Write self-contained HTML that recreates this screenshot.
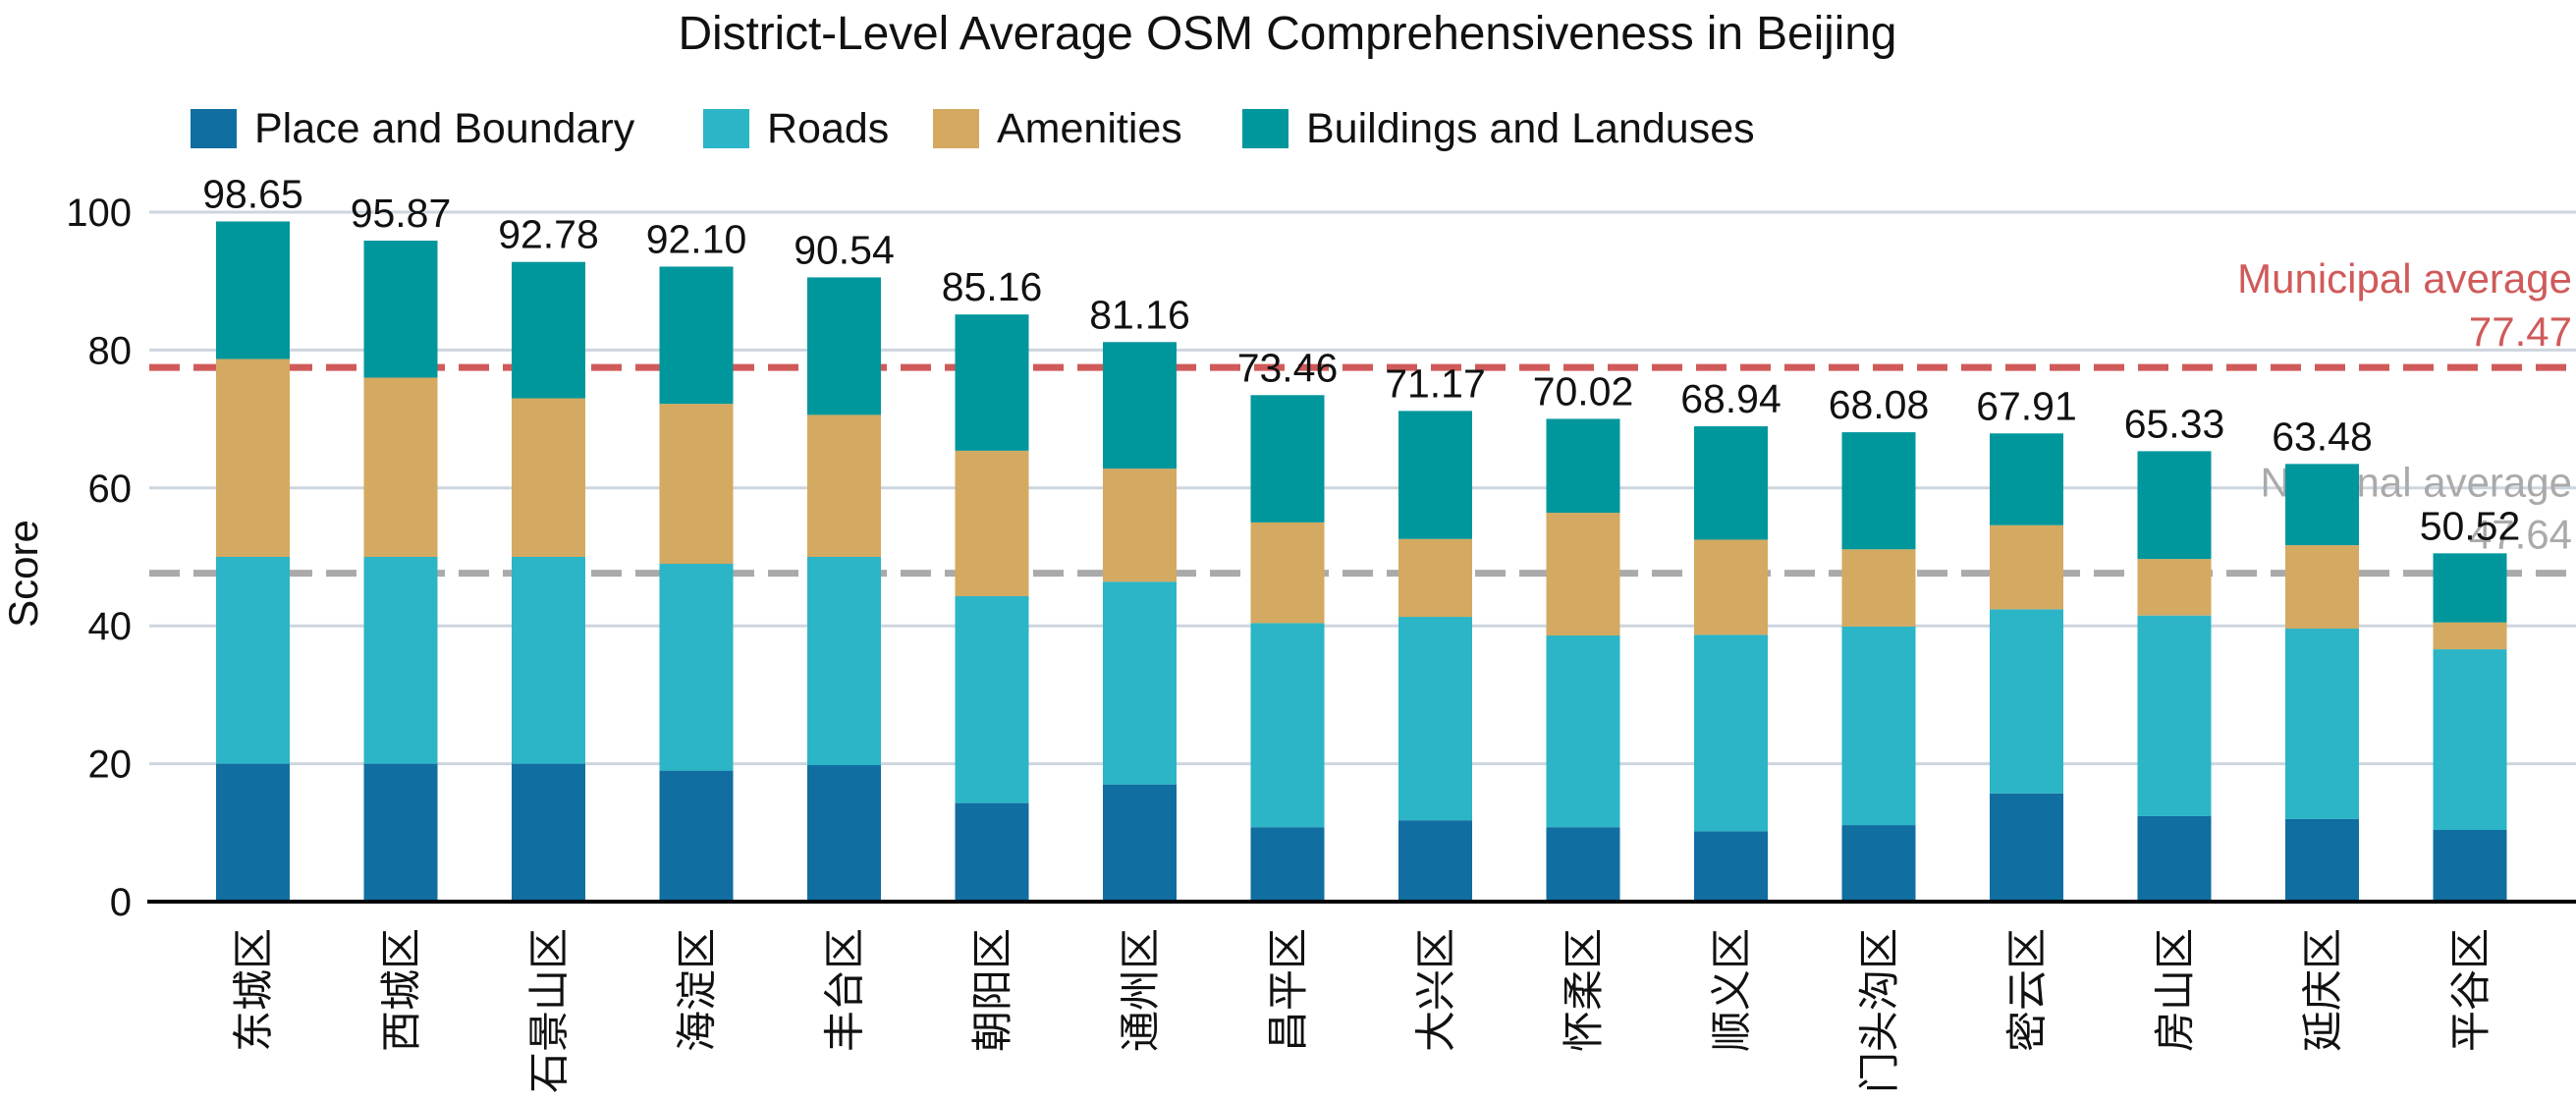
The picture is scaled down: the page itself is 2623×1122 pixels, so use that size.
<!DOCTYPE html>
<html><head><meta charset="utf-8"><style>
html,body{margin:0;padding:0;background:#fff;}
svg{display:block;font-family:"Liberation Sans","Noto Sans CJK SC",sans-serif;}
</style></head><body>
<svg id="chart" width="2623" height="1122" viewBox="0 0 2623 1122" xmlns="http://www.w3.org/2000/svg">
<text x="1311" y="50" text-anchor="middle" font-size="48" fill="#111" textLength="1241">District-Level Average OSM Comprehensiveness in Beijing</text>
<g id="legend"></g>
<g id="grid"></g>
<g id="refs"></g>
<g id="bars"></g>
<g id="labels"></g>
<g id="axes"></g>
<text transform="translate(38,584) rotate(-90)" text-anchor="middle" font-size="42" fill="#111">Score</text>
</svg>
<script>
const categories = ["东城区","西城区","石景山区","海淀区","丰台区","朝阳区","通州区","昌平区","大兴区","怀柔区","顺义区","门头沟区","密云区","房山区","延庆区","平谷区"];
const placeVals = [20,20,20,19,19.8,14.3,17,10.8,11.8,10.8,10.2,11.1,15.7,12.4,12.0,10.4];
const roadsVals = [30,30,30,30,30.2,30,29.4,29.6,29.5,27.8,28.5,28.8,26.7,29.1,27.6,26.2];
const amenVals = [28.7,26,23,23.2,20.6,21.1,16.4,14.6,11.3,17.8,13.8,11.2,12.2,8.2,12.1,3.9];
const totals = [98.65,95.87,92.78,92.10,90.54,85.16,81.16,73.46,71.17,70.02,68.94,68.08,67.91,65.33,63.48,50.52];
const yTicks = [0,20,40,60,80,100];
const municipalAvg = 77.47;
const nationalAvg = 47.64;
const seriesNames = ["Place and Boundary","Roads","Amenities","Buildings and Landuses"];
const colors = ["#106ea1","#2bb5c6","#d4a961","#00979c"];

const NS="http://www.w3.org/2000/svg";
const X0=152, X1=2623, Y0=918, PU=7.02, STEP=150.5, BW=75, FIRST=220;
const y = v => Y0 - v*PU;
const xl = i => FIRST + i*STEP;
function mk(tag, attrs, parent){const e=document.createElementNS(NS,tag);for(const k in attrs)e.setAttribute(k,attrs[k]);parent.appendChild(e);return e;}
const g = id => document.getElementById(id);

yTicks.forEach(t=>{
  if(t>0){const l=mk('line',{x1:X0,x2:X1,y1:y(t),y2:y(t),stroke:'#cdd5de','stroke-width':3},g('grid'));
  
  }
  const tx=mk('text',{x:134,y:y(t)+14,'text-anchor':'end','font-size':40,fill:'#111'},g('axes'));
  tx.textContent=t;
  
  
});

categories.forEach((c,i)=>{
  const parts=[placeVals[i],roadsVals[i],amenVals[i],totals[i]-placeVals[i]-roadsVals[i]-amenVals[i]];
  let base=0;
  parts.forEach((p,s)=>{
    const r=mk('rect',{x:xl(i),y:y(base+p),width:BW,height:p*PU,fill:colors[s]},g('bars'));
    
    
    base+=p;
  });
  const vl=mk('text',{x:xl(i)+BW/2,y:y(totals[i])-14,'text-anchor':'middle','font-size':41,fill:'#111'},g('labels'));
  vl.textContent=totals[i].toFixed(2);
  
  
  const cx=xl(i)+BW/2;
  const cl=mk('text',{transform:`translate(${cx+15},945) rotate(-90)`,'text-anchor':'end','font-size':42,fill:'#111'},g('axes'));
  cl.textContent=c;
  
  
});

function ref(v,color,name,l1,b1,b2){
  const l=mk('line',{x1:X0,x2:X1,y1:y(v),y2:y(v),stroke:color,'stroke-width':7,'stroke-dasharray':'31 14'},g('refs'));
  
  
  const t1=mk('text',{x:2619,y:b1,'text-anchor':'end','font-size':42,fill:color},g('refs'));
  t1.textContent=l1;
  
  
  const t2=mk('text',{x:2619,y:b2,'text-anchor':'end','font-size':42,fill:color},g('refs'));
  t2.textContent=v.toFixed(2);
  
  
}
ref(municipalAvg,'#d05a5a','municipal-average','Municipal average',y(municipalAvg)-76,y(municipalAvg)-22);
ref(nationalAvg,'#aaaaaa','national-average','National average',y(nationalAvg)-78,y(nationalAvg)-25);

const ax=mk('line',{x1:X0-2,x2:X1,y1:Y0,y2:Y0,stroke:'#000','stroke-width':4},g('axes'));



const swX=[194,716,950,1265];
seriesNames.forEach((n,s)=>{
  const r=mk('rect',{x:swX[s],y:111,width:47,height:40,fill:colors[s]},g('legend'));
  
  
  const t=mk('text',{x:swX[s]+65,y:145,'font-size':43,fill:'#111'},g('legend'));
  t.textContent=n;
  
  
});
</script>
</body></html>
